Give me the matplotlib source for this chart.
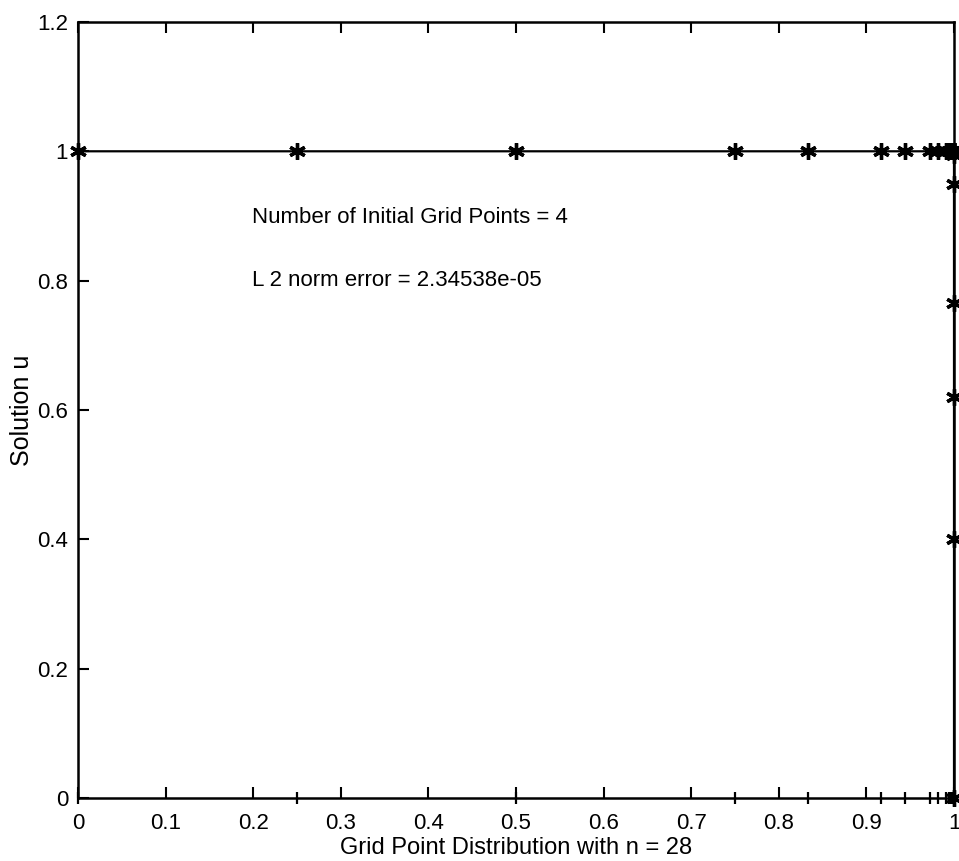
import matplotlib
matplotlib.use('Agg')
import matplotlib.pyplot as plt

plt.rcParams['font.family'] = ['Liberation Sans', 'DejaVu Sans']

# --- Data: adapted grid (n = 28) and solution values ---
grid_x = [0.0, 0.25, 0.5, 0.75, 0.8333, 0.9167, 0.9444, 0.9722, 0.9815,
          0.9907, 0.9938, 0.9969, 0.9979, 0.9990, 0.9993, 0.9997, 0.9998,
          0.9999, 0.99992, 0.99996, 0.99997, 0.99998, 0.99999, 0.999993,
          0.999996, 0.999998, 0.999999, 1.0]
solution_u = [1.0, 1.0, 1.0, 1.0, 1.0, 1.0, 1.0, 1.0, 1.0,
              1.0, 1.0, 1.0, 1.0, 1.0, 1.0, 1.0, 1.0,
              1.0, 1.0, 1.0, 1.0, 1.0, 0.994, 0.95,
              0.765, 0.62, 0.40, 0.0]
grid_base = [0.0] * len(grid_x)

x_ticks = [0, 0.1, 0.2, 0.3, 0.4, 0.5, 0.6, 0.7, 0.8, 0.9, 1.0]
x_tick_labels = ['0', '0.1', '0.2', '0.3', '0.4', '0.5', '0.6', '0.7', '0.8', '0.9', '1']
y_ticks = [0, 0.2, 0.4, 0.6, 0.8, 1.0, 1.2]
y_tick_labels = ['0', '0.2', '0.4', '0.6', '0.8', '1', '1.2']

fig = plt.figure(figsize=(9.59, 8.61), dpi=100)
ax = fig.add_axes([0.0813, 0.0732, 0.9135, 0.9013])

# solution curve with asterisk markers
ax.plot(grid_x, solution_u, color='black', linewidth=1.6,
        marker=(6, 2, 0), markersize=12, markeredgewidth=2.4, clip_on=False, zorder=3)

# grid point distribution along the x axis
ax.plot(grid_x, grid_base, linestyle='none', color='black',
        marker='|', markersize=9, markeredgewidth=1.6, clip_on=False, zorder=3)

ax.text(0.199, 0.897, 'Number of Initial Grid Points = 4', fontsize=16, va='center')
ax.text(0.199, 0.80, 'L 2 norm error = 2.34538e-05', fontsize=16, va='center')

ax.set_xlim(0, 1)
ax.set_ylim(0, 1.2)
ax.set_xticks(x_ticks)
ax.set_xticklabels(x_tick_labels)
ax.set_yticks(y_ticks)
ax.set_yticklabels(y_tick_labels)
ax.tick_params(direction='in', length=8, width=1.5, labelsize=16,
               top=True, right=False)
ax.tick_params(axis='x', pad=11)
ax.tick_params(axis='y', pad=7)
for s in ax.spines.values():
    s.set_linewidth(1.8)

ax.set_xlabel('Grid Point Distribution with n = 28', fontsize=17, labelpad=2)
ax.set_ylabel('Solution u', fontsize=18, labelpad=2)

fig.savefig('out.png', dpi=100)
